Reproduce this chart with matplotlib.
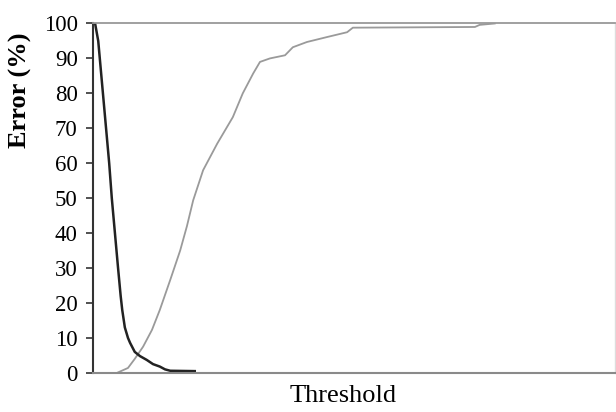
import matplotlib
matplotlib.use("Agg")
import matplotlib.pyplot as plt

# --- data (threshold on an arbitrary 0-100 scale) ---
low_x = [0.4, 1.0, 1.3, 1.9, 2.5, 3.1, 3.6, 4.2, 4.8, 5.3, 5.6, 6.1, 6.7,
         7.1, 8.0, 9.0, 10.3, 11.5, 12.8, 13.8, 14.8, 19.5]
low_err = [100, 95, 90, 80, 70, 60, 50, 40, 30, 22, 18, 13, 10,
           8.6, 6, 4.8, 3.7, 2.5, 1.8, 1.0, 0.6, 0.5]

high_x = [4.6, 6.7, 8.0, 9.6, 11.3, 12.8, 14.8, 16.7, 18.0, 19.2, 21.1, 23.8,
          26.8, 28.7, 30.7, 32.0, 33.9, 36.8, 38.3, 41.0, 44.8, 48.7, 49.8,
          73.2, 74.1, 77.0]
high_err = [0, 1.4, 4, 7.5, 12.3, 18, 26.6, 35, 42, 49.4, 58, 65.6,
            73.2, 80, 85.7, 89, 90, 90.9, 93.2, 94.7, 96.1, 97.5, 98.8,
            99, 99.6, 100]

y_ticks = list(range(0, 101, 10))

plt.rcParams['font.family'] = ['Liberation Serif', 'DejaVu Serif']

fig = plt.figure(figsize=(6.16, 4.12), dpi=100)
ax = fig.add_axes([0.151, 0.095, 0.847, 0.848])

ax.plot(high_x, high_err, color='#9a9a9a', linewidth=1.3)
ax.plot(low_x, low_err, color='#222222', linewidth=1.8)

ax.set_xlim(0, 100)
ax.set_ylim(0, 100)
ax.set_xticks([])
ax.set_yticks(y_ticks)
ax.tick_params(axis='y', direction='out', length=5, width=1.2,
               color='#333333', labelsize=16.5, pad=6)

ax.spines['left'].set_color('#333333')
ax.spines['left'].set_linewidth(1.5)
ax.spines['bottom'].set_color('#8a8a8a')
ax.spines['bottom'].set_linewidth(1.5)
ax.spines['top'].set_color('#999999')
ax.spines['top'].set_linewidth(1.3)
ax.spines['right'].set_color('#dddddd')
ax.spines['right'].set_linewidth(1.0)

ax.set_ylabel("Error (%)", fontsize=19, fontweight='bold')
ax.yaxis.set_label_coords(-0.117, 0.81)
ax.set_xlabel("Threshold", fontsize=19)
ax.xaxis.set_label_coords(0.479, -0.035)

fig.savefig("out.png", dpi=100)
